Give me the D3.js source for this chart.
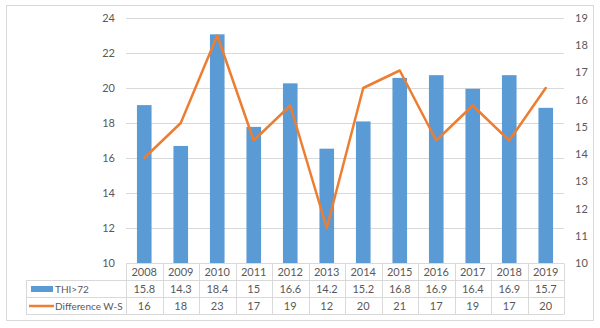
<!DOCTYPE html>
<html>
<head>
<meta charset="utf-8">
<script src="https://cdn.jsdelivr.net/npm/d3@7"></script>
<style>
  html, body { margin: 0; padding: 0; background: #fff; }
  svg { display: block; font-family: "Lato", "Liberation Sans", sans-serif; }
</style>
</head>
<body>
<svg id="chart" width="600" height="328"></svg>
<script>
// Years along the category axis
const years = ["2008","2009","2010","2011","2012","2013","2014","2015","2016","2017","2018","2019"];
// Bar series (plotted on the right axis)
const thiValues = [15.8, 14.3, 18.4, 15, 16.6, 14.2, 15.2, 16.8, 16.9, 16.4, 16.9, 15.7];
// Line series (plotted on the left axis)
const diffValues = [16, 18, 23, 17, 19, 12, 20, 21, 17, 19, 17, 20];
// Axis ticks
const leftTicks = [10, 12, 14, 16, 18, 20, 22, 24];
const rightTicks = [10, 11, 12, 13, 14, 15, 16, 17, 18, 19];
const seriesNames = ["THI>72", "Difference W-S"];

const barColor = "#5b9bd5";
const lineColor = "#ed7d31";
const gridColor = "#d9d9d9";
const textColor = "#595959";

const svg = d3.select("#chart");
const plot = { left: 126, right: 564, top: 18, bottom: 263 };
const rowH = 17;
const tableLeft = 26;

// chart frame
svg.append("rect")
  .attr("x", 6.5).attr("y", 5.5).attr("width", 587).attr("height", 315)
  .attr("fill", "#fff").attr("stroke", gridColor);

const x = d3.scaleBand().domain(years).range([plot.left, plot.right]).paddingInner(0.6).paddingOuter(0.3);
const xCol = d3.scaleBand().domain(years).range([plot.left, plot.right]);
const yL = d3.scaleLinear().domain([10, 24]).range([plot.bottom, plot.top]);
const yR = d3.scaleLinear().domain([10, 19]).range([plot.bottom, plot.top]);

// gridlines from the left axis
svg.append("g")
  .attr("transform", `translate(${plot.left},0)`)
  .call(d3.axisLeft(yL).tickValues(leftTicks).tickSize(-(plot.right - plot.left)).tickFormat(""))
  .call(g => g.select(".domain").remove())
  .call(g => g.selectAll("line").attr("stroke", gridColor));

// left axis labels
svg.append("g")
  .attr("transform", `translate(${plot.left - 11},0)`)
  .call(d3.axisLeft(yL).tickValues(leftTicks).tickSize(0).tickPadding(0))
  .call(g => g.select(".domain").remove())
  .call(g => g.selectAll("text").attr("fill", textColor).attr("font-size", 11).attr("font-family", "Lato"));

// right axis labels
svg.append("g")
  .attr("transform", `translate(${plot.right + 11},0)`)
  .call(d3.axisRight(yR).tickValues(rightTicks).tickSize(0).tickPadding(0))
  .call(g => g.select(".domain").remove())
  .call(g => g.selectAll("text").attr("fill", textColor).attr("font-size", 11).attr("font-family", "Lato"));

// bars
svg.append("g").selectAll("rect")
  .data(years.map((yr, i) => ({ yr, v: thiValues[i] })))
  .join("rect")
  .attr("x", d => x(d.yr))
  .attr("width", x.bandwidth())
  .attr("y", d => yR(d.v))
  .attr("height", d => yR(10) - yR(d.v))
  .attr("fill", barColor);

// line
const line = d3.line()
  .x((d, i) => xCol(years[i]) + xCol.bandwidth() / 2)
  .y(d => yL(d));
svg.append("path")
  .datum(diffValues)
  .attr("d", line)
  .attr("fill", "none")
  .attr("stroke", lineColor)
  .attr("stroke-width", 2.5)
  .attr("stroke-linejoin", "round")
  .attr("stroke-linecap", "round");

// data table
const table = svg.append("g");
const tTop = plot.bottom + 0.5;
const tBottom = tTop + rowH * 3;
const hl = (x1, x2, y) => table.append("line").attr("x1", x1).attr("x2", x2).attr("y1", y).attr("y2", y).attr("stroke", gridColor);
const vl = (xx, y1, y2) => table.append("line").attr("x1", xx).attr("x2", xx).attr("y1", y1).attr("y2", y2).attr("stroke", gridColor);
hl(plot.left, plot.right, tTop);
hl(tableLeft, plot.right, tTop + rowH);
hl(tableLeft, plot.right, tTop + rowH * 2);
hl(tableLeft, plot.right, tBottom);
vl(tableLeft + 0.5, tTop + rowH, tBottom);
years.forEach(yr => vl(Math.round(xCol(yr)) + 0.5, tTop, tBottom));
vl(plot.right + 0.5, tTop, tBottom);

const rows = [years, thiValues.map(String), diffValues.map(String)];
rows.forEach((vals, r) => {
  table.selectAll(null)
    .data(vals)
    .join("text")
    .attr("x", (d, i) => xCol(years[i]) + xCol.bandwidth() / 2)
    .attr("y", tTop + rowH * r + rowH / 2)
    .attr("dy", "0.35em")
    .attr("text-anchor", "middle")
    .attr("font-size", 11)
    .attr("fill", textColor)
    .text(d => d);
});

// legend keys in the table
const legY1 = tTop + rowH * 1.5;
const legY2 = tTop + rowH * 2.5;
table.append("rect").attr("x", 31).attr("y", legY1 - 3).attr("width", 22).attr("height", 6).attr("fill", barColor);
table.append("line").attr("x1", 29).attr("x2", 54).attr("y1", legY2).attr("y2", legY2)
  .attr("stroke", lineColor).attr("stroke-width", 2.5);
[legY1, legY2].forEach((yy, i) => {
  table.append("text")
    .attr("x", 55).attr("y", yy).attr("dy", "0.35em")
    .attr("font-size", 10).attr("fill", textColor)
    .text(seriesNames[i]);
});
</script>
</body>
</html>
